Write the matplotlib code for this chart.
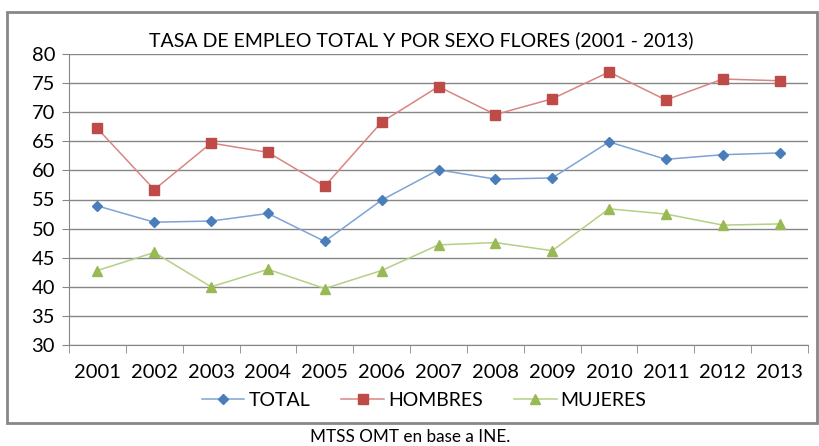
import matplotlib.pyplot as plt
from matplotlib.patches import Rectangle

years = ["2001", "2002", "2003", "2004", "2005", "2006", "2007",
         "2008", "2009", "2010", "2011", "2012", "2013"]
total = [53.9, 51.1, 51.3, 52.6, 47.8, 54.9, 60.1, 58.5, 58.7, 64.9, 61.9, 62.7, 63.0]
hombres = [67.2, 56.7, 64.7, 63.1, 57.3, 68.3, 74.4, 69.6, 72.3, 76.9, 72.1, 75.7, 75.4]
mujeres = [42.8, 45.9, 40.0, 43.0, 39.7, 42.8, 47.2, 47.6, 46.2, 53.4, 52.5, 50.6, 50.8]

plt.rcParams['font.family'] = ['Lato', 'DejaVu Sans']

W, H = 819, 446
fig = plt.figure(figsize=(W / 100, H / 100), dpi=100)
ax = fig.add_axes([69 / W, 1 - 345 / H, (808 - 69) / W, (345 - 54) / H])

# chart frame
fig.patches.append(Rectangle((7 / W, 1 - 423 / H), (817 - 7) / W, (423 - 12) / H,
                             transform=fig.transFigure, fill=False,
                             edgecolor='#878787', linewidth=2))

x = list(range(1, len(years) + 1))
ax.plot(x, total, color='#7ea3d4', lw=1.1, marker='D', ms=5.5,
        mfc='#4a7ebb', mec='#4a7ebb', label='TOTAL', zorder=3)
ax.plot(x, hombres, color='#d88583', lw=1.1, marker='s', ms=7,
        mfc='#be4b48', mec='#be4b48', label='HOMBRES', zorder=3)
ax.plot(x, mujeres, color='#b5cf84', lw=1.1, marker='^', ms=7.5,
        mfc='#98b954', mec='#98b954', label='MUJERES', zorder=3)

ax.set_xlim(0.5, len(years) + 0.5)
ax.set_ylim(30, 80)
ax.set_yticks(range(30, 81, 5))
ax.set_xticks(x)
ax.set_xticklabels(years)
ax.set_xticks([i + 0.5 for i in range(len(years) + 1)], minor=True)
ax.tick_params(axis='x', which='major', length=0, pad=14, labelsize=14.5)
ax.tick_params(axis='x', which='minor', length=6, color='#868686', direction='out')
ax.tick_params(axis='y', length=5, color='#868686', labelsize=14.5, pad=5)

ax.grid(axis='y', color='#868686', lw=1)
for s in ['top', 'right']:
    ax.spines[s].set_visible(False)
for s in ['left', 'bottom']:
    ax.spines[s].set_color('#868686')

fig.text(421 / W, 1 - 40 / H, 'TASA DE EMPLEO TOTAL Y POR SEXO FLORES (2001 - 2013)',
         ha='center', va='center', fontsize=14)

ax.legend(loc='center', bbox_to_anchor=(424 / W, 1 - 400 / H),
          bbox_transform=fig.transFigure, ncol=3, frameon=False,
          fontsize=14, handlelength=2.2, columnspacing=1.6, handletextpad=0.2)

fig.text(410 / W, 1 - 437 / H, 'MTSS OMT en base a INE.', ha='center', va='center',
         fontsize=12.3)

fig.savefig('out.png', dpi=100)
